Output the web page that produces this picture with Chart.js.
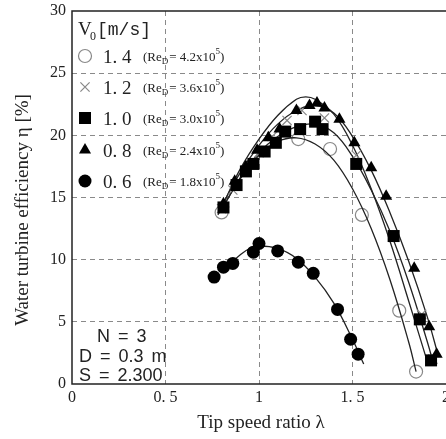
<!DOCTYPE html>
<html>
<head>
<meta charset="utf-8">
<script src="https://cdn.jsdelivr.net/npm/chart.js@4"></script>
<style>
  html, body { margin: 0; padding: 0; background: #fff; }
</style>
</head>
<body>
<canvas id="myChart" width="446" height="439"></canvas>
<script>
// tick labels
const xTickValues = [0, 0.5, 1, 1.5, 2];
const xTickLabels = ["0", "0. 5", "1", "1. 5", "2"];
const yTickValues = [0, 5, 10, 15, 20, 25, 30];

// legend text
const speedLabels = ["1. 4", "1. 2", "1. 0", "0. 8", "0. 6"];
const reLabels = ["4.2", "3.6", "3.0", "2.4", "1.8"];
const paramLines = ["N = 3", "D = 0.3 m", "S = 2.300"];

// measured points
const tsr14 = [0.80, 1.21, 1.38, 1.55, 1.75, 1.84];
const eff14 = [13.8, 19.7, 18.9, 13.6, 5.9, 1.0];

const tsr12 = [0.80, 0.86, 0.93, 1.00, 1.07, 1.15, 1.23, 1.35, 1.52, 1.72, 1.87, 1.93];
const eff12 = [14.1, 15.6, 17.2, 18.6, 19.9, 21.2, 22.0, 21.4, 18.4, 12.0, 5.6, 2.0];

const tsr10 = [0.81, 0.88, 0.93, 0.97, 1.03, 1.09, 1.14, 1.22, 1.30, 1.34, 1.52, 1.72, 1.86, 1.92];
const eff10 = [14.2, 16.0, 17.1, 17.7, 18.7, 19.4, 20.3, 20.5, 21.1, 20.5, 17.7, 11.9, 5.2, 1.9];

const tsr08 = [0.81, 0.87, 0.93, 0.99, 1.05, 1.11, 1.20, 1.27, 1.31, 1.35, 1.43, 1.51, 1.60, 1.68, 1.83, 1.91, 1.95];
const eff08 = [14.5, 16.3, 17.5, 18.8, 19.8, 20.5, 22.0, 22.4, 22.6, 22.2, 21.3, 19.4, 17.4, 15.1, 9.3, 4.6, 2.4];

const tsr06 = [0.76, 0.81, 0.86, 0.97, 1.00, 1.10, 1.21, 1.29, 1.42, 1.49, 1.53];
const eff06 = [8.6, 9.4, 9.7, 10.6, 11.3, 10.7, 9.8, 8.9, 6.0, 3.6, 2.4];

// fitted curves
const fitX14 = [0.78, 0.90, 1.00, 1.10, 1.20, 1.30, 1.40, 1.50, 1.60, 1.70, 1.80, 1.84];
const fitY14 = [13.6, 16.5, 18.4, 19.5, 19.8, 19.3, 18.0, 15.7, 12.5, 8.4, 3.4, 1.0];

const fitX12 = [0.80, 0.90, 1.00, 1.10, 1.20, 1.25, 1.30, 1.40, 1.50, 1.60, 1.70, 1.80, 1.90];
const fitY12 = [14.2, 17.3, 19.7, 21.6, 22.9, 23.1, 22.9, 21.7, 19.2, 15.7, 11.5, 6.7, 1.8];

const fitX10 = [0.80, 0.90, 1.00, 1.10, 1.20, 1.30, 1.40, 1.50, 1.60, 1.70, 1.80, 1.90, 1.93];
const fitY10 = [14.0, 16.6, 18.6, 19.9, 20.7, 20.9, 20.2, 18.3, 15.6, 12.3, 8.2, 3.4, 1.8];

const fitX08 = [0.80, 0.90, 1.00, 1.10, 1.20, 1.30, 1.40, 1.50, 1.60, 1.70, 1.80, 1.90, 1.96];
const fitY08 = [14.3, 17.0, 19.2, 20.9, 22.0, 22.4, 21.8, 19.9, 17.2, 13.8, 9.9, 5.4, 2.2];

const fitX06 = [0.85, 0.90, 0.95, 1.00, 1.10, 1.20, 1.30, 1.40, 1.50, 1.56];
const fitY06 = [9.7, 10.4, 10.9, 11.1, 10.9, 10.1, 8.6, 6.5, 3.6, 1.6];

const zip = (xs, ys) => xs.map((x, i) => ({ x: x, y: ys[i] }));

const markerStyles = [
  { pointStyle: "circle", radius: 6.5, fill: "#fff", stroke: "#888", width: 1.2 },
  { pointStyle: "crossRot", radius: 6.5, fill: "#888", stroke: "#888", width: 1.2 },
  { pointStyle: "rect", radius: 8.5, fill: "#000", stroke: "#000", width: 0 },
  { pointStyle: "triangle", radius: 7, fill: "#000", stroke: "#000", width: 0 },
  { pointStyle: "circle", radius: 6.5, fill: "#000", stroke: "#000", width: 0 },
];

function pointSet(data, m) {
  return {
    type: "scatter",
    data: data,
    showLine: false,
    pointStyle: m.pointStyle,
    pointRadius: m.radius,
    pointBackgroundColor: m.fill,
    pointBorderColor: m.stroke,
    pointBorderWidth: m.width,
  };
}

function curveSet(data) {
  return {
    type: "line",
    data: data,
    showLine: true,
    borderColor: "#222",
    borderWidth: 1.3,
    pointRadius: 0,
    tension: 0.4,
    fill: false,
  };
}

const datasets = [
  pointSet(zip(tsr10, eff10), markerStyles[2]),
  pointSet(zip(tsr08, eff08), markerStyles[3]),
  pointSet(zip(tsr06, eff06), markerStyles[4]),
  pointSet(zip(tsr12, eff12), markerStyles[1]),
  curveSet(zip(fitX14, fitY14)),
  curveSet(zip(fitX12, fitY12)),
  curveSet(zip(fitX10, fitY10)),
  curveSet(zip(fitX08, fitY08)),
  curveSet(zip(fitX06, fitY06)),
  pointSet(zip(tsr14, eff14), markerStyles[0]),
];

const gridColor = (ctx) => {
  const v = ctx.tick ? ctx.tick.value : null;
  return v === 0 || v === 30 || v === 2 ? "rgba(0,0,0,0)" : "#8a8a8a";
};

// draws text word by word so the spaces stay wide
function spacedText(ctx, text, x, y, gap) {
  text.split(" ").forEach((word) => {
    ctx.fillText(word, x, y);
    x += ctx.measureText(word).width + gap;
  });
}

const decorations = {
  id: "decorations",
  afterDraw(chart) {
    const ctx = chart.ctx;
    const a = chart.chartArea;
    ctx.save();

    // frame
    ctx.strokeStyle = "#222";
    ctx.lineWidth = 1.5;
    ctx.beginPath();
    ctx.moveTo(a.right + 2, a.top);
    ctx.lineTo(a.left, a.top);
    ctx.lineTo(a.left, a.bottom);
    ctx.lineTo(a.right + 2, a.bottom);
    ctx.stroke();

    ctx.fillStyle = "#222";
    ctx.textBaseline = "alphabetic";

    // axis titles
    ctx.font = "19px 'Liberation Serif'";
    ctx.textAlign = "center";
    ctx.fillText("Tip speed ratio \u03bb", 261, 428);

    ctx.save();
    ctx.translate(28, 210);
    ctx.rotate(-Math.PI / 2);
    ctx.fillText("Water turbine efficiency \u03b7 [%]", 0, 0);
    ctx.restore();

    // legend header
    ctx.textAlign = "left";
    ctx.font = "19px 'Liberation Serif'";
    ctx.fillText("V", 78, 35);
    ctx.font = "12px 'Liberation Serif'";
    ctx.fillText("0", 90, 40);
    ctx.font = "18px 'Liberation Mono'";
    ctx.fillText("[m/s]", 97, 35);

    // legend rows
    const rowY = [56, 87, 118, 150, 181];
    for (let i = 0; i < 5; i++) {
      const m = markerStyles[i];
      const y = rowY[i];
      ctx.fillStyle = m.fill;
      ctx.strokeStyle = m.stroke;
      ctx.lineWidth = m.width || 1;
      Chart.helpers.drawPoint(ctx, {
        pointStyle: m.pointStyle,
        radius: m.radius,
        rotation: 0,
        borderWidth: m.width,
      }, 85, y);

      ctx.fillStyle = "#222";
      ctx.font = "19px 'Liberation Serif'";
      ctx.fillText(speedLabels[i], 103, y + 7);

      let x = 143;
      ctx.font = "13px 'Liberation Serif'";
      ctx.fillText("(Re", x, y + 5);
      x += ctx.measureText("(Re").width;
      ctx.font = "9px 'Liberation Serif'";
      ctx.fillText("D", x, y + 8);
      x += ctx.measureText("D").width + 1;
      ctx.font = "13px 'Liberation Serif'";
      const mid = "= " + reLabels[i] + "x10";
      ctx.fillText(mid, x, y + 5);
      x += ctx.measureText(mid).width;
      ctx.font = "9px 'Liberation Serif'";
      ctx.fillText("5", x, y - 2);
      x += ctx.measureText("5").width;
      ctx.font = "13px 'Liberation Serif'";
      ctx.fillText(")", x, y + 5);
    }

    // turbine parameters
    ctx.fillStyle = "#222";
    ctx.font = "18px 'Liberation Sans'";
    spacedText(ctx, paramLines[0], 97, 342, 8);
    spacedText(ctx, paramLines[1], 79, 362, 8);
    spacedText(ctx, paramLines[2], 79, 381, 8);

    ctx.restore();
  },
};

const config = {
  data: { datasets: datasets },
  options: {
    responsive: false,
    animation: false,
    devicePixelRatio: 1,
    layout: { autoPadding: false, padding: { top: 11, right: 0, left: 0, bottom: 0 } },
    plugins: {
      legend: { display: false },
      tooltip: { enabled: false },
    },
    scales: {
      x: {
        type: "linear",
        min: 0,
        max: 2,
        afterBuildTicks: (scale) => {
          scale.ticks = xTickValues.map((v) => ({ value: v }));
        },
        afterFit: (scale) => {
          scale.height = 55;
          scale.paddingLeft = 0;
          scale.paddingRight = 0;
        },
        ticks: {
          autoSkip: false,
          maxRotation: 0,
          padding: 4,
          color: "#222",
          font: { family: "'Liberation Serif'", size: 16 },
          callback: (value) => {
            const i = xTickValues.indexOf(value);
            return i >= 0 ? xTickLabels[i] : "";
          },
        },
        grid: { color: gridColor, lineWidth: 1, drawTicks: false },
        border: { display: false, dash: [5, 4] },
      },
      y: {
        type: "linear",
        min: 0,
        max: 30,
        afterBuildTicks: (scale) => {
          scale.ticks = yTickValues.map((v) => ({ value: v }));
        },
        afterFit: (scale) => {
          scale.width = 72;
          scale.paddingTop = 0;
          scale.paddingBottom = 0;
        },
        ticks: {
          padding: 6,
          color: "#222",
          font: { family: "'Liberation Serif'", size: 16 },
        },
        grid: { color: gridColor, lineWidth: 1, drawTicks: false },
        border: { display: false, dash: [5, 4] },
      },
    },
  },
  plugins: [decorations],
};

const myChart = new Chart(document.getElementById("myChart"), config);
</script>
</body>
</html>
